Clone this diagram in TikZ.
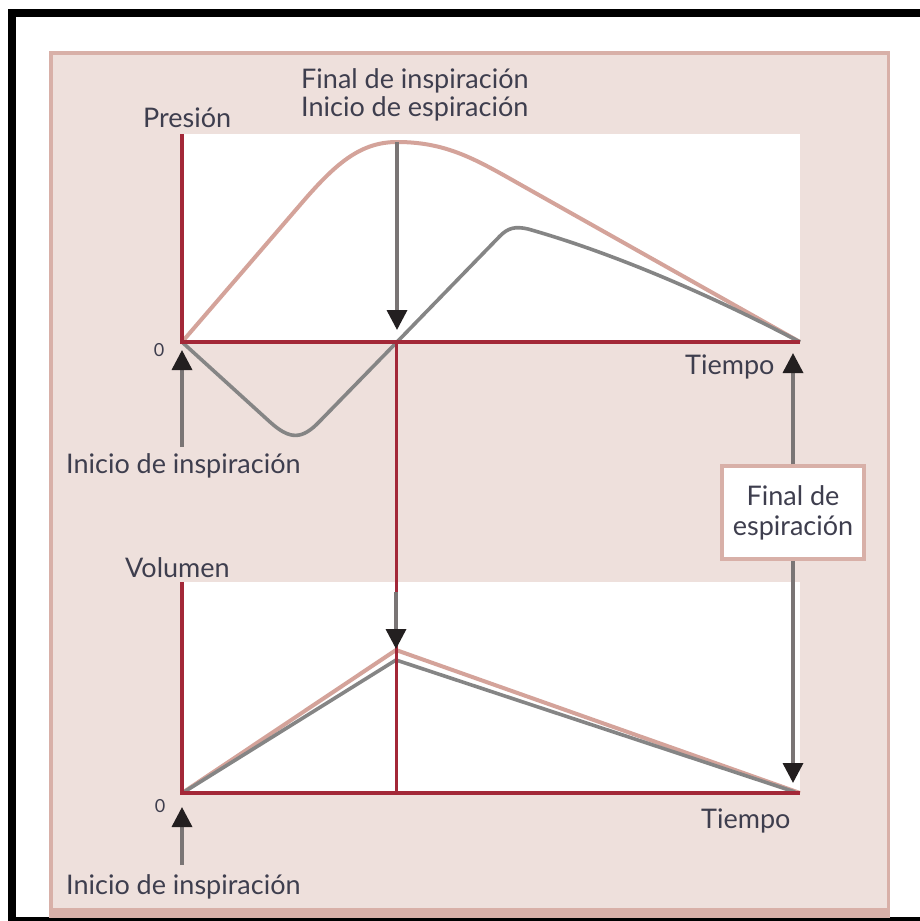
\documentclass[tikz,border=0pt]{standalone}
\usepackage{fontspec}
\setmainfont{Lato}
\usetikzlibrary{arrows.meta}
\definecolor{panelc}{RGB}{238,224,220}
\definecolor{borderc}{RGB}{216,176,168}
\definecolor{axisc}{RGB}{163,40,56}
\definecolor{pinkc}{RGB}{212,163,154}
\definecolor{grayc}{RGB}{133,133,133}
\definecolor{shaftc}{RGB}{122,117,117}
\definecolor{headc}{RGB}{35,31,32}
\definecolor{txtc}{RGB}{62,62,78}
\begin{document}
\begin{tikzpicture}[x=1pt,y=-1pt,
  lbl/.style={anchor=base west, inner sep=0pt, text=txtc, font=\fontsize{27}{30}\selectfont},
  zerolbl/.style={inner sep=0pt, text=txtc, font=\fontsize{18}{20}\selectfont},
  axisline/.style={draw=axisc, line width=4pt},
  pinkcurve/.style={draw=pinkc, line width=4pt, line join=round},
  graycurve/.style={draw=grayc, line width=3.6pt, line join=round},
  garrow/.style={draw=shaftc, line width=3.5pt, -{Triangle[length=20pt,width=20pt,color=headc]}},
  noteBox/.style={draw=borderc, line width=3.5pt, fill=white, text=txtc,
    minimum width=142pt, minimum height=93pt, align=center, inner sep=0pt,
    font=\fontsize{27}{30}\selectfont}]
\useasboundingbox (0,0) rectangle (920,921);
% outer frame
\fill[white] (0,0) rectangle (920,921);
\fill[black] (8,9) rectangle (920,921);
\fill[white] (16,17) rectangle (920,917);
% panel
\fill[borderc] (49,51) rectangle (890,918);
\fill[panelc] (53,55) rectangle (886.5,908);
% plot areas
\fill[white] (184,134) rectangle (800,342);
\fill[white] (184,582) rectangle (800,793);

% coordinates
\coordinate (o1) at (182,342);
\coordinate (e1) at (800,342);
\coordinate (pk1) at (397,142);
\coordinate (o2) at (182,793);
\coordinate (e2) at (800,793);

% pressure curves
\draw[pinkcurve] (o1) -- (300,205) .. controls (335,164) and (360,142) .. (pk1)
  .. controls (450,142) and (480,162) .. (530,190) -- (e1);
\draw[graycurve] (o1) -- (270,422) .. controls (290,440) and (302,440) .. (320,421)
  -- (397,342) -- (500,236) .. controls (508,228) and (515,226) .. (528,229)
  .. controls (620,255) and (720,300) .. (e1);

% volume curves
\draw[pinkcurve] (o2) -- (396,650) -- (e2);
\draw[graycurve] (184,792) -- (396,660) -- (795,792);

% axes
\draw[axisline] (182,134) -- (182,344);
\draw[axisline] (180,342) -- (e1);
\draw[axisline] (182,582) -- (182,795);
\draw[axisline] (180,793) -- (e2);
\draw[draw=axisc, line width=3pt] (396,342) -- (396,793);

% labels
\node[lbl] (pres) at (143,127) {Presión};
\node[lbl] (fin1) at (301,88) {Final de inspiración};
\node[lbl] (fin2) at (301,116) {Inicio de espiración};
\node[zerolbl] (z1) at (159,350) {0};
\node[lbl] (tie1) at (685,374) {Tiempo};
\node[lbl] (ins1) at (66,473) {Inicio de inspiración};
\node[lbl] (vol) at (125,577) {Volumen};
\node[zerolbl] (z2) at (160,806) {0};
\node[lbl] (tie2) at (701,828) {Tiempo};
\node[lbl] (ins2) at (66,894) {Inicio de inspiración};
\node[noteBox] (box) at (793,512.5) {Final de\\espiración};

% arrows
\coordinate (tA) at (397,330);
\coordinate (sB) at (182,447);
\coordinate (tB) at (182,350);
\coordinate (tC) at (793,353);
\coordinate (tD) at (793,783);
\coordinate (sE) at (396,592);
\coordinate (tE) at (396,649);
\coordinate (sF) at (182,865);
\coordinate (tF) at (182,807);
\draw[garrow] (pk1) -- (tA);
\draw[garrow] (sB) -- (tB);
\draw[garrow] (box.north) -- (tC);
\draw[garrow] (box.south) -- (tD);
\draw[garrow] (sE) -- (tE);
\draw[garrow] (sF) -- (tF);
\end{tikzpicture}
\end{document}
